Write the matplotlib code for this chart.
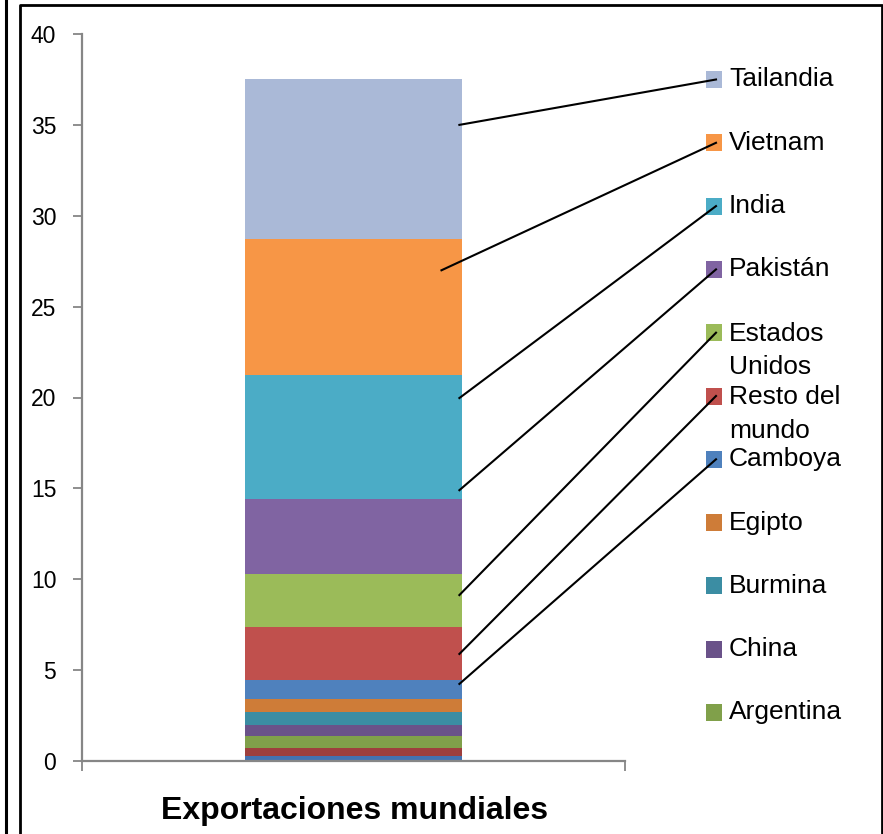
import numpy as np
import matplotlib
matplotlib.use("Agg")
import matplotlib.pyplot as plt
from matplotlib.patches import Rectangle
from matplotlib.lines import Line2D

plt.rcParams['font.family'] = ['Liberation Sans', 'DejaVu Sans']

# series from bottom to top of the stacked bar
names = ["", "", "Argentina", "China", "Burmina", "Egipto", "Camboya",
         "Resto del\nmundo", "Estados\nUnidos", "Pakistán", "India", "Vietnam", "Tailandia"]
values = [0.28, 0.45, 0.65, 0.60, 0.73, 0.68, 1.07, 2.91, 2.92, 4.13, 6.82, 7.48, 8.80]
colors = ["#4472B0", "#9E3F3D", "#80A04A", "#6A5289", "#3B8DA3", "#CE7C38", "#4F81BD",
          "#C0504D", "#9BBB59", "#8064A2", "#4BACC6", "#F79646", "#AAB9D7"]
category = "Exportaciones mundiales"

# leader lines: series name -> (x, y) anchor inside its segment
leaders = {
    "Tailandia": (0.195, 35.0),
    "Vietnam": (0.162, 27.0),
    "India": (0.195, 19.97),
    "Pakistán": (0.195, 14.9),
    "Estados\nUnidos": (0.195, 9.13),
    "Resto del\nmundo": (0.195, 5.89),
    "Camboya": (0.195, 4.24),
}

W, H = 883, 834
fig = plt.figure(figsize=(W / 100, H / 100), dpi=100)
ax = fig.add_axes([82 / W, 1 - 761 / H, (625 - 82) / W, (761 - 34) / H])

bottom = 0
for v, c in zip(values, colors):
    ax.bar(0, v, width=0.4, bottom=bottom, color=c, linewidth=0)
    bottom += v

ax.set_xlim(-0.5, 0.5)
ax.set_ylim(0, 40)
ax.set_yticks(np.arange(0, 41, 5))
ax.set_xticks([-0.5, 0.5])
ax.set_xticklabels([])
for s in ["top", "right"]:
    ax.spines[s].set_visible(False)
for s in ["left", "bottom"]:
    ax.spines[s].set_color("#868686")
    ax.spines[s].set_linewidth(1.6)
ax.tick_params(axis="both", direction="out", length=6.5, width=1.3, color="#868686")
ax.tick_params(axis="y", labelsize=16.5, pad=12)
ax.tick_params(axis="x", length=7)

fig.text(355 / W, 1 - 819 / H, category, ha="center", va="baseline",
         fontsize=23, fontweight="bold")

# legend (top entry = top segment)
leg_names = [n for n in names if n][::-1]
leg_colors = [c for n, c in zip(names, colors) if n][::-1]
fx = lambda px: px / W
fy = lambda py: 1 - py / H
for i, (n, c) in enumerate(zip(leg_names, leg_colors)):
    yc = 79.5 + 63.3 * i
    fig.add_artist(Rectangle((fx(706), fy(yc + 8.5)), 16 / W, 17 / H,
                             transform=fig.transFigure, color=c, lw=0))
    if "\n" in n:
        fig.text(fx(729), fy(yc - 11), n, ha="left", va="top",
                 fontsize=19, linespacing=1.5)
    else:
        fig.text(fx(729), fy(yc), n, ha="left", va="center", fontsize=19)

# leader lines
fig.canvas.draw()
inv = fig.transFigure.inverted()
for i, n in enumerate(leg_names):
    if n not in leaders:
        continue
    yc = 79.5 + 63.3 * i
    sx, sy = inv.transform(ax.transData.transform(leaders[n]))
    fig.add_artist(Line2D([sx, fx(716)], [sy, fy(yc)], transform=fig.transFigure,
                          color="black", lw=1.5))

# outer frame
fig.add_artist(Line2D([fx(5.5), fx(5.5)], [0, 1], transform=fig.transFigure, color="black", lw=2.2))
fig.add_artist(Line2D([fx(19.5), fx(19.5), fx(881.5), fx(881.5)], [0, fy(4.5), fy(4.5), 0],
                      transform=fig.transFigure, color="black", lw=2.0))

fig.savefig("out.png", dpi=100)
